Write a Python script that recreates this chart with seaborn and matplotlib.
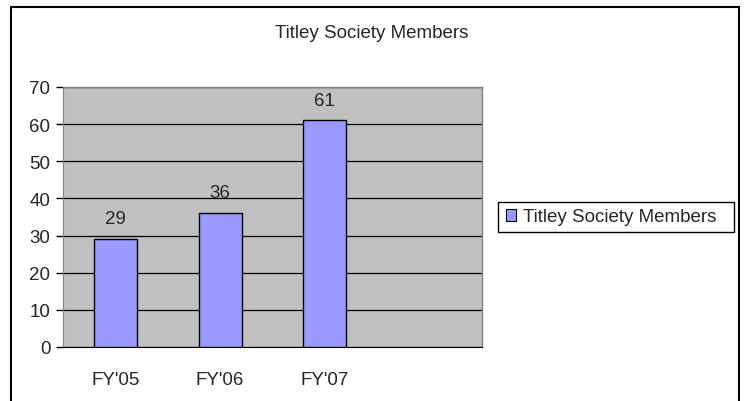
import numpy as np
import pandas as pd
import matplotlib
matplotlib.use("Agg")
import matplotlib.pyplot as plt
import seaborn as sns
from matplotlib.patches import Rectangle, Patch

categories = ["FY'05", "FY'06", "FY'07"]
members = [29, 36, 61]
series_name = "Titley Society Members"
yticks = [0, 10, 20, 30, 40, 50, 60, 70]

df = pd.DataFrame({"year": categories, "members": members})

sns.set_style("white")
plt.rcParams["font.family"] = ["Liberation Sans", "DejaVu Sans"]

W, H = 744, 402
fig = plt.figure(figsize=(W / 100, H / 100), dpi=100)
ax = fig.add_axes([63 / W, 1 - 348 / H, 419 / W, 260 / H])

sns.barplot(data=df, x="year", y="members", color="#9999FF", saturation=1,
            width=0.41, edgecolor="black", linewidth=1, ax=ax, zorder=3)

ax.set_facecolor("#C0C0C0")
ax.set_xlim(-0.5, 3.5)
ax.set_ylim(0, 70)
ax.set_yticks(yticks)
ax.yaxis.grid(True, color="black", linewidth=0.9, zorder=1)
ax.set_axisbelow(True)
for s in ["top", "right"]:
    ax.spines[s].set_color("#808080")
    ax.spines[s].set_linewidth(1)
ax.spines["left"].set_color("#808080")
ax.spines["bottom"].set_color("black")

ax.set_xticks(range(len(categories)))
ax.set_xticklabels(categories)
ax.set_xticks(np.arange(-0.5, 4.0, 1.0), minor=True)
ax.tick_params(axis="x", which="major", length=0, pad=17, labelsize=13.5)
ax.tick_params(axis="x", which="minor", length=5, width=1, color="black", direction="out")
ax.tick_params(axis="y", length=5, width=1, color="black", direction="out",
               left=True, labelsize=13.5, pad=4)
ax.set_xlabel("")
ax.set_ylabel("")

for i, v in enumerate(members):
    ax.text(i, v + 3.2, str(v), ha="center", va="bottom", fontsize=13.5)

fig.text(0.5, 1 - 33 / H, series_name, ha="center", va="center", fontsize=13.5)

# legend: entries without frame, Excel-like box drawn separately
handle = Patch(facecolor="#9999FF", edgecolor="black", linewidth=0.8)
leg = fig.legend([handle], [series_name], loc="center left",
                 bbox_to_anchor=(506 / W, 1 - 218 / H), fontsize=13.5,
                 frameon=False, handlelength=0.55, handleheight=0.55,
                 handletextpad=0.35, borderpad=0, borderaxespad=0)
fig.patches.append(Rectangle((498 / W, 1 - 233 / H), 236 / W, 30 / H,
                             transform=fig.transFigure, fill=False,
                             edgecolor="black", linewidth=1))

fig.patches.append(Rectangle((11 / W, -0.1), 728 / W, 1.1 - 8 / H,
                             transform=fig.transFigure, fill=False,
                             edgecolor="black", linewidth=1.5))

fig.savefig("out.png", dpi=100)
